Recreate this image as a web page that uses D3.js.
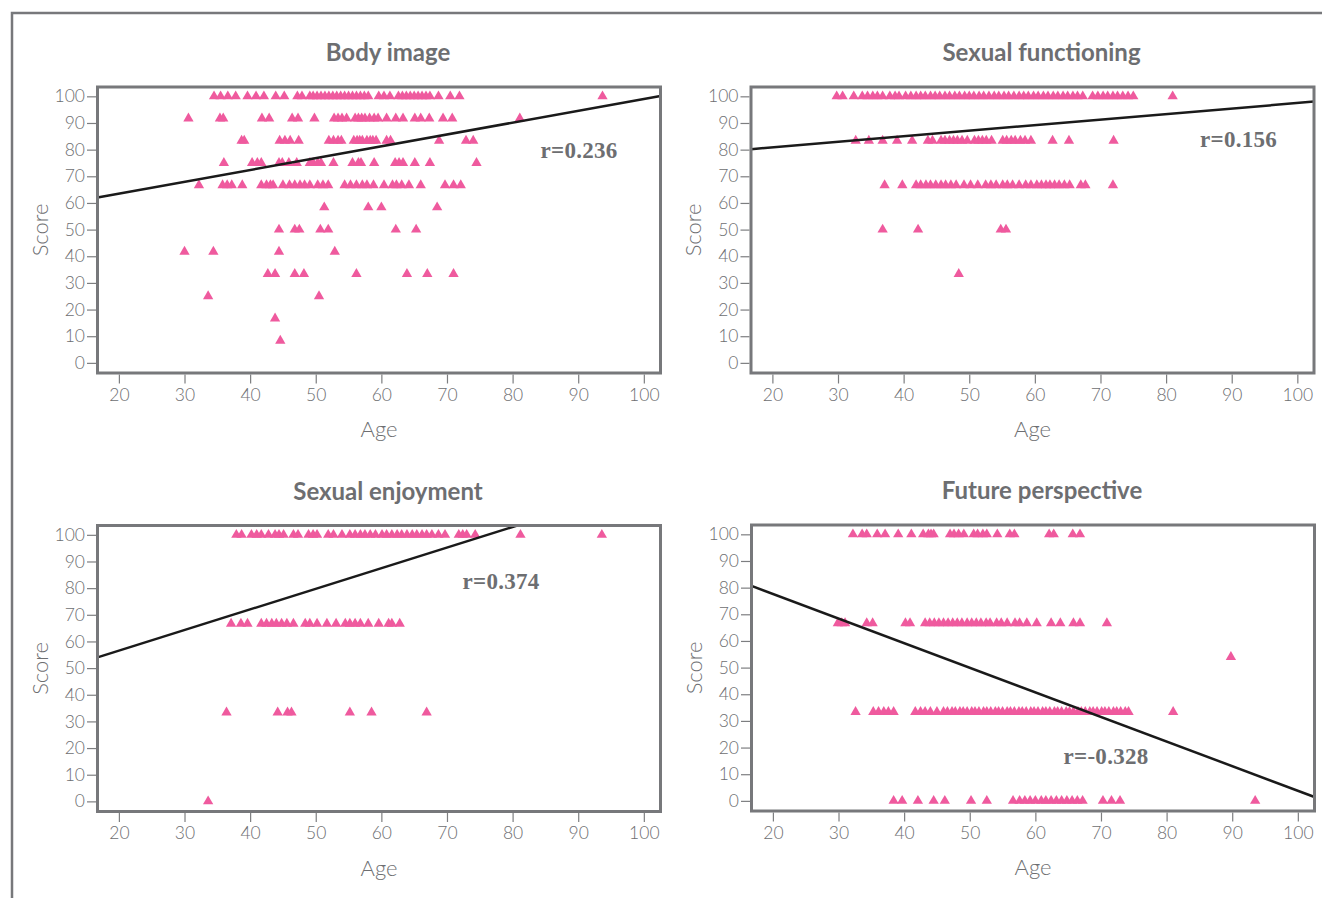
<!DOCTYPE html>
<html>
<head>
<meta charset="utf-8">
<script src="https://cdn.jsdelivr.net/npm/d3@7"></script>
<style>
  body { margin: 0; background: #fff; }
</style>
</head>
<body>
<svg id="chart" width="1322" height="898"></svg>
<script>

// Each row: [score, ages of the patients with that score]
const bodyImageRows = [
  [100, [34.5,35.5,36.6,37.8,39.6,40.9,42.1,43.9,45.2,47.2,47.9,49.1,49.6,50.2,50.8,51.4,52,52.6,53.2,53.8,54.4,55,55.6,56.2,56.8,57.4,58,59.6,60.4,61.3,62.6,63.2,63.8,64.4,65,65.6,66.2,66.8,67.4,68.7,70.5,71.9,93.7]],
  [91.67, [30.6,35.4,35.9,41.8,42.9,46.4,47.3,49.8,52.8,53.4,54,54.7,56,56.5,57,57.5,58.2,58.9,59.5,60.8,62.2,63.3,65.1,66,67.3,69.4,70.8,81.1]],
  [83.33, [38.7,39.1,44.5,45.3,46.1,47.4,52,52.7,53.4,53.9,55.8,56.3,56.7,57.1,57.8,58.3,58.7,59.2,60.8,61.4,68.8,72.9,74]],
  [75, [36,40.3,41.1,41.7,44.4,44.9,45.9,47.1,49.1,49.6,50.3,50.8,52.7,55.6,56.5,56.9,58.9,62.1,62.7,63.3,65.1,67.4,74.5]],
  [66.67, [32.2,35.8,36.5,37.2,38.8,41.7,42.5,43.1,43.5,45,46,46.8,47.6,48.3,49.1,50.3,51.1,51.9,54.4,55.3,56.2,57.1,57.8,58.8,60.4,61.7,62.3,63.1,64.2,66,69.7,71,72.1]],
  [58.33, [51.3,58,60,68.5]],
  [50, [44.4,46.8,47.5,50.7,51.9,62.2,65.3]],
  [41.67, [30,34.4,44.4,52.9]],
  [33.33, [42.7,43.8,46.8,48.2,56.2,63.9,67,71]],
  [25, [33.6,50.5]],
  [16.67, [43.8]],
  [8.33, [44.6]]
];

const sexualFunctioningRows = [
  [100, [29.8,30.7,32.4,33.7,34.5,35.3,36,36.8,37.9,38.7,39.3,40.3,41.1,41.9,42.6,43.3,44.1,44.8,45.5,46.3,47,47.8,48.5,49.3,50,50.7,51.5,52.2,53,53.8,54.5,55.3,56,56.8,57.6,58.3,59,59.8,60.5,61.3,62,62.8,63.5,64.3,65,65.8,66.5,67.3,68.8,69.6,70.4,71.1,71.9,72.6,73.4,74.2,75,81]],
  [83.33, [32.7,34.7,36.8,39,41.3,43.7,44.4,45.7,46.3,47,47.6,48.2,48.9,49.7,50.8,51.4,52,52.6,53.4,55.1,55.7,56.4,57,57.8,58.5,59.4,62.7,65.2,72]],
  [66.67, [37.1,39.8,41.9,42.6,43.4,44.1,44.9,45.7,46.4,47.2,48,49.2,50.2,51.3,52.5,53.3,54.1,55.1,55.8,56.6,57.6,58.6,59.4,60.3,61,61.7,62.3,63,63.7,64.5,65.3,67,67.7,71.9]],
  [50, [36.8,42.2,54.8,55.6]],
  [33.33, [48.4]]
];

const sexualEnjoymentRows = [
  [100, [37.9,38.7,40.2,41,41.7,42.8,43.8,44.4,45.1,46.6,47.3,48.9,49.6,50.2,51.9,52.7,54,55.2,56,56.8,57.5,58.3,59.1,60.1,60.8,61.6,62.4,63.1,63.9,64.7,65.4,66.2,66.9,67.7,68.7,69.7,71.8,72.4,73,74.3,81.2,93.6]],
  [66.67, [37.1,38.6,39.6,41.7,42.5,43.3,44,44.8,45.6,46.6,48.4,49.1,50.2,51.7,53.1,54.5,55.2,56,56.8,58,59.6,61.1,61.6,62.8]],
  [33.33, [36.4,44.2,45.7,46.3,55.2,58.5,66.9]],
  [0, [33.6]]
];

const futurePerspectiveRows = [
  [100, [32.2,33.6,34.3,35.9,37.1,39.1,41.1,42.9,43.7,44.1,44.5,47,47.6,48.3,49.1,50.6,51.2,52,52.6,54.2,56.1,56.8,62.1,62.8,65.7,66.8]],
  [66.67, [29.9,30.5,31,34.3,35.2,40.2,40.9,43.2,43.9,44.6,45.3,46,46.7,47.4,48.1,48.8,49.6,50.3,51,51.7,52.5,53.1,54.1,54.8,55.7,56.9,57.6,58.7,60.2,62.4,63.8,65.8,66.8,70.9]],
  [54, [89.8]],
  [33.33, [32.6,35.3,36.1,36.9,37.6,38.4,41.7,42.5,43.2,44,45,46,46.6,47.3,47.8,48.5,49,49.6,50.3,50.8,51.4,52.1,52.6,53.2,53.9,54.4,55,55.7,56.2,56.8,57.5,58,58.6,59.3,59.8,60.4,61.1,61.6,62.2,62.9,63.4,64,64.7,65.2,65.8,66.5,67,67.6,68.3,68.8,69.4,70.1,70.6,71.2,71.9,72.4,73,73.7,74.2,81]],
  [0, [38.4,39.7,42.1,44.5,46.2,50.2,52.6,56.6,57.6,58.4,59.2,60,60.9,61.6,62.4,63.2,64,64.8,65.6,66.4,67.2,70.3,71.6,72.9,93.5]]
];

// Regression fits: [intercept, slope]
const bodyImageFit = [54.6, 0.444];
const sexualFunctioningFit = [76.7, 0.208];
const sexualEnjoymentFit = [41.1, 0.773];
const futurePerspectiveFit = [96.1, -0.923];

const titles = ["Body image", "Sexual functioning", "Sexual enjoyment", "Future perspective"];
const rLabels = ["r=0.236", "r=0.156", "r=0.374", "r=-0.328"];

const xTicks = [20, 30, 40, 50, 60, 70, 80, 90, 100];
const yTicks = [0, 10, 20, 30, 40, 50, 60, 70, 80, 90, 100];

const GRAY = "#6d6e71";
const PINK = "#ef5a9e";
const W = 563, H = 286;

var svg = d3.select("#chart");

// outer figure frame
svg.append("path")
  .attr("d", "M12,898V13H1322")
  .attr("fill", "none")
  .attr("stroke", "#77787b")
  .attr("stroke-width", 2.5);

var x = d3.scaleLinear().domain([16.74, 102.54]).range([0, W]);
var y = d3.scaleLinear().domain([-3.8, 103.5]).range([H, 0]);

var panels = [
  { rows: bodyImageRows, fit: bodyImageFit, left: 97.5, top: 87, rx: 443, ry: 70 },
  { rows: sexualFunctioningRows, fit: sexualFunctioningFit, left: 751, top: 87, rx: 449, ry: 59 },
  { rows: sexualEnjoymentRows, fit: sexualEnjoymentFit, left: 97.5, top: 525.5, rx: 365, ry: 62 },
  { rows: futurePerspectiveRows, fit: futurePerspectiveFit, left: 751.5, top: 525, rx: 312, ry: 238 }
];

panels.forEach(function(p, i) {

  var g = svg.append("g")
    .attr("transform", "translate(" + p.left + "," + p.top + ")");

  g.append("clipPath")
    .attr("id", "clip" + i)
    .append("rect")
    .attr("width", W)
    .attr("height", H);

  // Title
  g.append("text")
    .attr("x", W / 2 + 9)
    .attr("y", -26)
    .attr("text-anchor", "middle")
    .attr("font-family", "Lato, 'Open Sans', sans-serif")
    .attr("font-weight", "bold")
    .attr("font-size", 24)
    .attr("fill", GRAY)
    .text(titles[i]);

  // Points
  var points = p.rows.flatMap(function(r) {
    return r[1].map(function(a) { return { age: a, score: r[0] }; });
  });

  g.append("g")
    .selectAll("path")
    .data(points)
    .join("path")
    .attr("transform", function(d) { return "translate(" + x(d.age) + "," + y(d.score) + ")"; })
    .attr("d", d3.symbol(d3.symbolTriangle, 46))
    .attr("fill", PINK);

  // Regression line
  var dom = x.domain();
  g.append("line")
    .attr("clip-path", "url(#clip" + i + ")")
    .attr("x1", x(dom[0]))
    .attr("y1", y(p.fit[0] + p.fit[1] * dom[0]))
    .attr("x2", x(dom[1]))
    .attr("y2", y(p.fit[0] + p.fit[1] * dom[1]))
    .attr("stroke", "#1a1a1a")
    .attr("stroke-width", 2.5);

  // r label
  g.append("text")
    .attr("x", p.rx)
    .attr("y", p.ry + 1)
    .attr("font-family", "'Liberation Serif', serif")
    .attr("font-weight", "bold")
    .attr("font-size", 23)
    .attr("letter-spacing", 0.3)
    .attr("fill", GRAY)
    .text(rLabels[i]);

  // Frame
  g.append("rect")
    .attr("width", W)
    .attr("height", H)
    .attr("fill", "none")
    .attr("stroke", "#77787b")
    .attr("stroke-width", 3);

  // Axes
  var yAxis = g.append("g")
    .attr("transform", "translate(-1.5,0)")
    .call(d3.axisLeft(y).tickValues(yTicks).tickSize(9).tickPadding(2));

  var xAxis = g.append("g")
    .attr("transform", "translate(0," + (H + 1.5) + ")")
    .call(d3.axisBottom(x).tickValues(xTicks).tickSize(9).tickPadding(5));

  [yAxis, xAxis].forEach(function(ax) {
    ax.select(".domain").remove();
    ax.selectAll(".tick line").attr("stroke", "#7d7e80").attr("stroke-width", 1.2);
    ax.selectAll(".tick text")
      .attr("fill", GRAY)
      .attr("font-family", "Lato, 'Open Sans', sans-serif")
      .attr("font-weight", 300)
      .attr("font-size", 17.5);
  });

  // Axis titles
  g.append("text")
    .attr("x", W / 2)
    .attr("y", H + 64)
    .attr("text-anchor", "middle")
    .attr("font-family", "Lato, 'Open Sans', sans-serif")
    .attr("font-weight", 300)
    .attr("font-size", 22)
    .attr("fill", GRAY)
    .text("Age");

  g.append("text")
    .attr("transform", "translate(-50," + (H / 2) + ") rotate(-90)")
    .attr("text-anchor", "middle")
    .attr("font-family", "Lato, 'Open Sans', sans-serif")
    .attr("font-weight", 300)
    .attr("font-size", 22)
    .attr("fill", GRAY)
    .text("Score");

});

</script>
</body>
</html>
